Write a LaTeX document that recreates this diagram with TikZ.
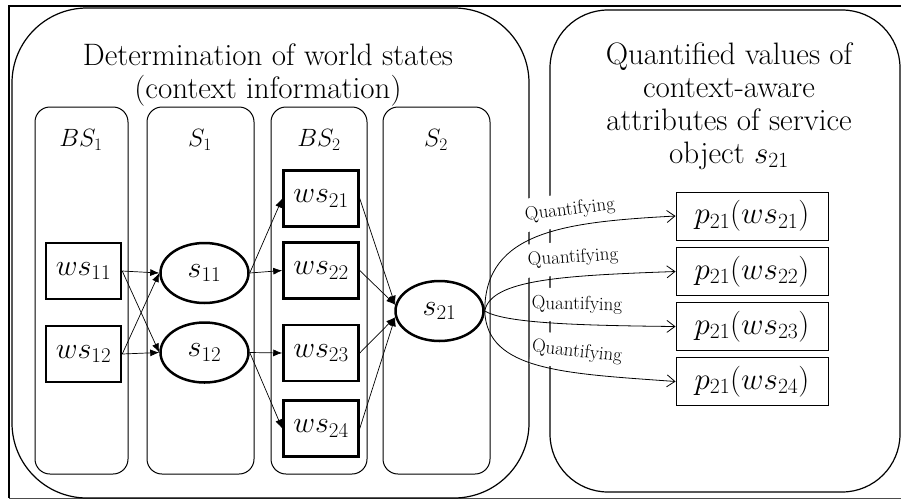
\RequirePackage{fix-cm}
\documentclass[tikz,border=0pt]{standalone}
\usetikzlibrary{arrows.meta,shapes.geometric}

\tikzset{
  column/.style={draw,line width=1pt,rounded corners=15pt},
  wsbox/.style={draw,line width=2.5pt,minimum width=75pt,minimum height=56pt,inner sep=0pt,font=\fontsize{30}{31}\selectfont},
  sobj/.style={ellipse,draw,line width=2.5pt,minimum width=88pt,minimum height=60pt,inner sep=0pt,font=\fontsize{30}{31}\selectfont},
  pbox/.style={draw,line width=0.9pt,minimum width=152pt,minimum height=48pt,inner sep=0pt,font=\fontsize{31}{32}\selectfont},
  collabel/.style={font=\fontsize{25}{26}\selectfont},
  title/.style={align=center,font=\fontsize{31}{33}\selectfont},
  quant/.style={fill=white,inner xsep=1pt,inner ysep=8pt,font=\fontsize{19}{21}\selectfont},
  flow/.style={-{Latex[length=9pt,width=7pt]},line width=0.7pt},
  qarrow/.style={-{Straight Barb[length=8pt,width=12pt]},line width=0.8pt},
}

\begin{document}
\begin{tikzpicture}[x=1pt,y=-1pt]
	\useasboundingbox (0,0) rectangle (901,501);
	% outer frame
	\draw[line width=2pt] (9,498) -- (9,6) -- (905,6);
	\draw[line width=1pt,black!70] (9,498) -- (905,498);
	% the two big rounded boxes
	\draw[line width=1.2pt,rounded corners=75pt] (12,8) rectangle (529,498);
	\draw[line width=1.2pt,rounded corners=58pt] (550,10) rectangle (900,492);
	\node[title] (ltitle) at (268,75) {Determination of world states\\(context information)};
	\node[title] (rtitle) at (729,106) {Quantified values of\\context-aware\\attributes of service\\object $s_{21}$};
	% columns
	\draw[column] (35,107) rectangle (128,474);
	\draw[column] (147,107) rectangle (254,474);
	\draw[column] (271,107) rectangle (367,474);
	\draw[column] (383,107) rectangle (490,474);
	\node[collabel] (lbs1) at (81,140) {$BS_1$};
	\node[collabel] (ls1) at (200,140) {$S_1$};
	\node[collabel] (lbs2) at (319,140) {$BS_2$};
	\node[collabel] (ls2) at (436,140) {$S_2$};
	% world states and service objects
	\node[wsbox] (ws11) at (83.5,271) {$ws_{11}$};
	\node[wsbox] (ws12) at (83.5,354) {$ws_{12}$};
	\node[sobj] (s11) at (204.5,273) {$s_{11}$};
	\node[sobj] (s12) at (204.5,352.5) {$s_{12}$};
	\node[wsbox] (ws21) at (321,198.5) {$ws_{21}$};
	\node[wsbox] (ws22) at (321,270.5) {$ws_{22}$};
	\node[wsbox] (ws23) at (321,353) {$ws_{23}$};
	\node[wsbox] (ws24) at (321,428.5) {$ws_{24}$};
	\node[sobj] (s21) at (439.5,311) {$s_{21}$};
	% quantified values
	\node[pbox] (p1) at (752,216) {$p_{21}(ws_{21})$};
	\node[pbox] (p2) at (752,271.5) {$p_{21}(ws_{22})$};
	\node[pbox] (p3) at (752,326.5) {$p_{21}(ws_{23})$};
	\node[pbox] (p4) at (752,381.5) {$p_{21}(ws_{24})$};
	% connectors
	\draw[flow] (ws11.east) -- (s11.west);
	\draw[flow] (ws11.east) -- (s12.west);
	\draw[flow] (ws12.east) -- (s11.west);
	\draw[flow] (ws12.east) -- (s12.west);
	\draw[flow] (s11.east) -- (ws21.west);
	\draw[flow] (s11.east) -- (ws22.west);
	\draw[flow] (s12.east) -- (ws23.west);
	\draw[flow] (s12.east) -- (ws24.west);
	\draw[flow] (ws21.east) -- (s21.172);
	\draw[flow] (ws22.east) -- (s21.172);
	\draw[flow] (ws23.east) -- (s21.188);
	\draw[flow] (ws24.east) -- (s21.188);
	% quantifying
	\node[quant,rotate=7] (q1) at (570,210) {Quantifying};
	\node[quant,rotate=4] (q2) at (573,258) {Quantifying};
	\node[quant,rotate=-1] (q3) at (577,305) {Quantifying};
	\node[quant,rotate=-6] (q4) at (577,352) {Quantifying};
	\draw[qarrow] (s21.east) .. controls +(0,-80) and +(-110,6) .. (p1.west);
	\draw[qarrow] (s21.east) .. controls +(6,-32) and +(-110,4) .. (p2.west);
	\draw[qarrow] (s21.east) .. controls +(20,12) and +(-100,-1) .. (p3.west);
	\draw[qarrow] (s21.east) .. controls +(2,60) and +(-110,-8) .. (p4.west);
\end{tikzpicture}
\end{document}
